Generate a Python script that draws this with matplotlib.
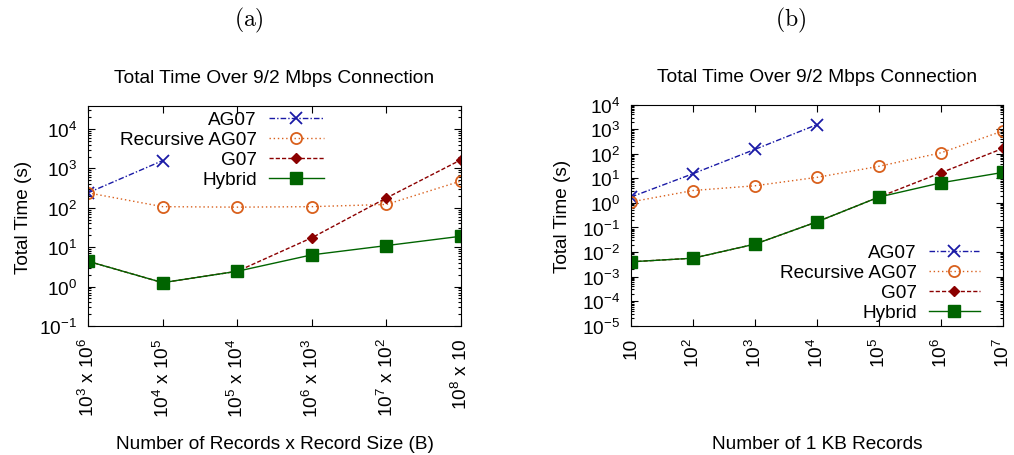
import numpy as np
import matplotlib
matplotlib.use('Agg')
import matplotlib.pyplot as plt
from matplotlib.ticker import LogLocator, NullLocator, NullFormatter

plt.rcParams['font.family'] = ['Liberation Sans', 'DejaVu Sans']
plt.rcParams['mathtext.fontset'] = 'custom'
plt.rcParams['mathtext.rm'] = 'Liberation Sans'
plt.rcParams['mathtext.it'] = 'Liberation Sans:italic'
plt.rcParams['mathtext.bf'] = 'Liberation Sans:bold'
plt.rcParams['font.size'] = 13.7

# (a) 记录数 x 记录大小
size_labels = [r'$10^{3}$ x $10^{6}$', r'$10^{4}$ x $10^{5}$', r'$10^{5}$ x $10^{4}$',
               r'$10^{6}$ x $10^{3}$', r'$10^{7}$ x $10^{2}$', r'$10^{8}$ x 10']
a_ag07 = [240, 1580]
a_rec = [240, 107, 104, 107, 122, 480]
a_g07 = [4.4, 1.26, 2.45, 17.4, 178, 1660]
a_hybrid = [4.4, 1.26, 2.45, 6.4, 11, 19]

# (b) 1 KB 记录数
n_records = [10, 1e2, 1e3, 1e4, 1e5, 1e6, 1e7]
n_labels = ['10', r'$10^{2}$', r'$10^{3}$', r'$10^{4}$', r'$10^{5}$', r'$10^{6}$', r'$10^{7}$']
b_ag07 = [1.74, 15.5, 152, 1550]
b_rec = [1.1, 3.2, 5.0, 11, 31, 110, 860]
b_g07 = [0.004, 0.0056, 0.021, 0.17, 1.74, 17, 167]
b_hybrid = [0.004, 0.0056, 0.021, 0.17, 1.74, 6.6, 17.5]

names = ['AG07', 'Recursive AG07', 'G07', 'Hybrid']
styles = [
    dict(color='#1a1aa6', marker='x', ms=8.5, mew=1.3, dashes=(4, 1.5, 1, 1.5)),
    dict(color='#d9601c', marker='o', ms=8, mfc='none', mew=1.3, dashes=(1, 2)),
    dict(color='#8b0000', marker='D', ms=5.5, dashes=(3, 1.5)),
    dict(color='#006400', marker='s', ms=8.5, linestyle='-'),
]


def style_axes(ax):
    ax.set_yscale('log')
    ax.yaxis.set_minor_locator(LogLocator(base=10, subs=np.arange(2, 10), numticks=100))
    ax.yaxis.set_minor_formatter(NullFormatter())
    ax.tick_params(which='both', direction='in', top=True, right=True)
    ax.tick_params(which='major', length=5, width=0.8)
    ax.tick_params(which='minor', length=2.5, width=0.8)
    ax.tick_params(axis='y', pad=8)
    ax.tick_params(axis='x', pad=8)
    ax.set_title('Total Time Over 9/2 Mbps Connection', pad=17, fontsize=13.8)
    ax.set_ylabel('Total Time (s)')


fig = plt.figure(figsize=(10.14, 4.56), dpi=100)
ax1 = fig.add_axes([0.0868, 0.2829, 0.3679, 0.4825])
ax2 = fig.add_axes([0.6223, 0.2836, 0.3669, 0.4846])

x_a = np.arange(len(size_labels))
series_a = [a_ag07, a_rec, a_g07, a_hybrid]
for name, vals, st in zip(names, series_a, styles):
    ax1.plot(x_a[:len(vals)], vals, label=name, lw=1.0, **st)
style_axes(ax1)
ax1.set_xlim(0, 5)
ax1.set_ylim(0.1, 3.85e4)
ax1.set_xticks(x_a)
ax1.set_xticklabels(size_labels, rotation=90)
ax1.xaxis.set_minor_locator(NullLocator())
ax1.set_xlabel('Number of Records x Record Size (B)')
ax1.xaxis.set_label_coords(0.5, -0.495)
ax1.yaxis.set_label_coords(-0.15, 0.5)
ax1.legend(loc='upper right', bbox_to_anchor=(324 / 1014, 1 - 112 / 456),
           bbox_transform=fig.transFigure, frameon=False, markerfirst=False,
           borderpad=0, borderaxespad=0, handlelength=2.9, handletextpad=0.63,
           labelspacing=0.14, numpoints=1)

series_b = [b_ag07, b_rec, b_g07, b_hybrid]
for name, vals, st in zip(names, series_b, styles):
    ax2.plot(n_records[:len(vals)], vals, label=name, lw=1.0, **st)
style_axes(ax2)
ax2.set_xscale('log')
ax2.set_xlim(10, 1e7)
ax2.set_ylim(1e-5, 1e4)
ax2.set_yticks([10.0 ** k for k in range(-5, 5)])
ax2.set_xticks(n_records)
ax2.set_xticklabels(n_labels, rotation=90)
ax2.xaxis.set_minor_locator(NullLocator())
ax2.set_xlabel('Number of 1 KB Records')
ax2.xaxis.set_label_coords(0.5, -0.495)
ax2.yaxis.set_label_coords(-0.16, 0.5)
ax2.legend(loc='upper right', bbox_to_anchor=(980 / 1014, 1 - 245 / 456),
           bbox_transform=fig.transFigure, frameon=False, markerfirst=False,
           borderpad=0, borderaxespad=0, handlelength=2.7, handletextpad=0.63,
           labelspacing=0.14, numpoints=1)

fig.text(249 / 1014, 1 - 20 / 456, r'$\mathrm{(a)}$', ha='center', va='center',
         fontsize=17, math_fontfamily='cm')
fig.text(791 / 1014, 1 - 20 / 456, r'$\mathrm{(b)}$', ha='center', va='center',
         fontsize=17, math_fontfamily='cm')

fig.savefig('out.png', dpi=100)
